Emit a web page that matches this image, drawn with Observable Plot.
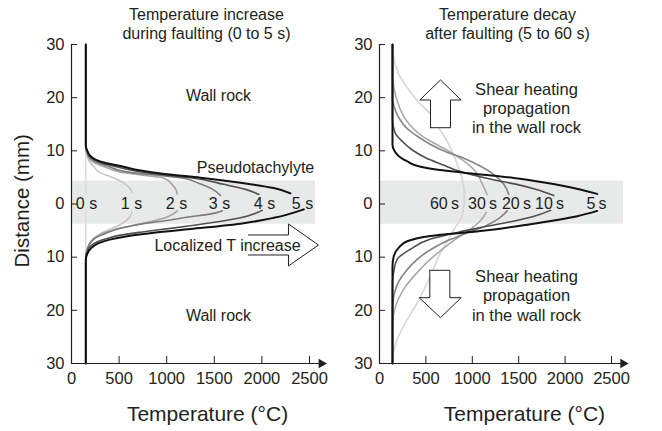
<!DOCTYPE html>
<html><head><meta charset="utf-8">
<script src="https://cdn.jsdelivr.net/npm/d3@7"></script>
<script src="https://cdn.jsdelivr.net/npm/@observablehq/plot@0.6"></script>
<style>
body{margin:0;background:#fff;}
#wrap{position:relative;width:662px;height:431px;overflow:hidden;font-family:"Liberation Sans",Arial,Helvetica,sans-serif;}
.panel{position:absolute;top:0;}
</style></head><body>
<div id="wrap"><div class="panel" id="left" style="left:0"></div><div class="panel" id="right" style="left:331px"></div></div>
<script>
// ---------- data (Temperature °C, Distance mm) ----------
const xTicks = [0, 500, 1000, 1500, 2000, 2500];
const yTicks = [-30, -20, -10, 0, 10, 20, 30];
const bandLow = -3.8, bandHigh = 4.3;   // pseudotachylyte layer

// left panel: heating 0-5 s  (upper branch / lower branch)
const leftTimes = ["0 s", "1 s", "2 s", "3 s", "4 s", "5 s"];
const leftLabelT = [158, 630, 1103, 1555, 2027, 2426];
const L0_up = [[150,30],[150,1.8]];
const L0_lo = [[150,-1.3],[150,-30]];
const L1_up = [[150,30],[150,10.4],[158,9.6],[166,9.0],[188,8.0],[232,7.1],[290,6.0],[400,5.2],[470,4.7],[560,3.8],[615,2.9],[635,2.2]];
const L1_lo = [[635,-1.6],[600,-2.7],[520,-3.8],[400,-4.8],[280,-5.8],[210,-6.9],[175,-8.2],[155,-9.8],[150,-10.5],[150,-30]];
const L2_up = [[150,30],[150,10.5],[160,9.7],[171,9.0],[220,8.0],[326,7.15],[520,6.0],[800,5.3],[966,4.9],[1060,3.6],[1100,2.6],[1110,1.9]];
const L2_lo = [[1110,-1.3],[1000,-2.5],[760,-3.6],[500,-4.6],[320,-5.6],[230,-6.6],[180,-7.8],[155,-9.4],[150,-10.3],[150,-30]];
const L3_up = [[150,30],[150,10.7],[165,9.8],[178,9.0],[250,8.0],[378,7.15],[600,6.0],[900,5.4],[1145,4.95],[1350,3.8],[1480,2.8],[1565,1.6]];
const L3_lo = [[1583,-1.3],[1450,-1.9],[1250,-2.4],[1000,-3.1],[725,-3.8],[500,-4.6],[375,-5.4],[250,-6.4],[200,-7.2],[165,-8.6],[150,-10.2],[150,-30]];
const L4_up = [[150,30],[150,10.8],[172,9.8],[190,9.0],[280,8.0],[441,7.15],[700,6.1],[1000,5.4],[1250,4.95],[1600,3.7],[1820,2.8],[1967,1.8]];
const L4_lo = [[2003,-1.2],[1775,-2.6],[1250,-4.1],[900,-4.9],[725,-5.3],[500,-5.9],[375,-6.5],[260,-7.2],[200,-7.9],[165,-9.0],[150,-10.4],[150,-30]];
const L5_up = [[150,30],[150,11],[165,10],[200,9.0],[260,8.3],[340,7.8],[515,7.15],[725,6.3],[1000,5.6],[1355,4.95],[1775,4.0],[2125,3.0],[2300,2.0]];
const L5_lo = [[2440,-1.0],[2125,-2.6],[1775,-3.7],[1250,-4.7],[865,-5.4],[600,-6.0],[400,-6.7],[280,-7.4],[200,-8.4],[165,-9.4],[150,-10.5],[150,-30]];

// right panel: decay 5-60 s
const rightTimes = ["60\u2009s", "30\u2009s", "20\u2009s", "10\u2009s", "5\u2009s"];
const rightLabelT = [700, 1110, 1476, 1832, 2338];
const R60 = [[140,30],[150,28],[175,26],[220,24],[298,21.9],[420,19.2],[550,16.9],[650,14],[729,11.8],[790,9.6],[837,7.5],[880,5.3],[908,3.1],[915,1.0],[905,-0.8],[891,-2.3],[801,-4.8],[730,-7],[657,-9.2],[550,-13.5],[406,-18.6],[262,-22.9],[180,-26],[150,-28],[140,-30]];
const R30_up = [[140,30],[140,24],[150,22.5],[190,19.4],[298,15.5],[420,13.3],[550,11.8],[720,10.2],[908,8.1],[1040,6.0],[1107,3.8],[1160,1.8]];
const R30_lo = [[1150,-1.6],[1080,-3.3],[960,-5],[820,-6.6],[680,-8.5],[540,-10.5],[400,-13],[280,-15.5],[200,-18],[160,-20],[145,-21.5],[140,-23],[140,-30]];
const R20_up = [[140,30],[140,20],[155,18.5],[200,16.5],[298,14.2],[420,12.6],[550,11.2],[720,9.8],[908,8.6],[1100,7.0],[1250,5.3],[1340,3.7],[1393,1.8]];
const R20_lo = [[1376,-1.3],[1280,-2.8],[1120,-4.3],[920,-5.6],[720,-7],[540,-8.7],[400,-10.5],[290,-12.5],[210,-14.5],[165,-16.5],[145,-18.5],[140,-20],[140,-30]];
const R10_up = [[140,30],[140,16],[150,14.5],[180,13],[245,11.8],[350,10.2],[496,8.7],[680,7.4],[855,6.2],[1214,4.6],[1500,3.6],[1700,2.7],[1878,1.6]];
const R10_lo = [[1843,-1.2],[1650,-2.4],[1400,-3.4],[1100,-4.4],[850,-5.3],[550,-6.6],[334,-8.5],[190,-10.4],[154,-12.6],[140,-14.8],[140,-30]];
const R5_up = [[140,30],[140,11.2],[160,10],[208,9.0],[300,8.0],[442,7.0],[650,6.4],[908,5.9],[1447,4.9],[1986,3.4],[2346,1.9]];
const R5_lo = [[2346,-1.3],[2130,-2.3],[1627,-3.8],[1088,-5.1],[550,-6.0],[298,-7.0],[208,-8.2],[154,-9.8],[140,-11.7],[140,-30]];

// texts
const leftTitle = "Temperature increase\nduring faulting (0 to 5 s)";
const rightTitle = "Temperature decay\nafter faulting (5 to 60 s)";
const xLabel = "Temperature (°C)";
const yLabel = "Distance (mm)";
const wallRock = "Wall rock";
const pseudo = "Pseudotachylyte";
const localized = "Localized T increase";
const shear = "Shear heating\npropagation\nin the wall rock";

// annotation arrow outlines (°C, mm)
const arrowRight = [[1859,-5.83],[2279,-5.83],[2279,-3.76],[2594,-7.71],[2279,-11.66],[2279,-9.59],[1859,-9.59]];
const arrowUp = [[550,14.35],[550,19.56],[434,19.56],[657,23.32],[880,19.56],[765,19.56],[765,14.35],[550,14.35]];
const arrowDown = [[542,-12.47],[542,-17.62],[428,-17.62],[657,-21.38],[880,-17.62],[758,-17.62],[758,-12.47],[542,-12.47]];

// ---------- drawing ----------
const ink = "#231f20";
const font = '"Liberation Sans", Arial, Helvetica, sans-serif';
const X = d => d[0], Y = d => d[1];

function curve(data, stroke, w) {
  return Plot.line(data, {x: X, y: Y, stroke, strokeWidth: w, curve: "monotone-y", strokeLinejoin: "round"});
}

function panel(o) {
  const innerW = 331 - o.ml - o.mr, innerH = 431 - 44 - 68;
  return Plot.plot({
    width: 331, height: 431,
    marginLeft: o.ml, marginRight: o.mr, marginTop: 44, marginBottom: 68,
    style: {fontFamily: font, fontSize: "16.5px", color: ink, background: "transparent", overflow: "visible"},
    x: {domain: [0, 2500], ticks: xTicks, tickSize: 0, tickPadding: 9, tickFormat: d => String(d), label: null},
    y: {domain: [-30, 30], ticks: yTicks, tickSize: 0, tickPadding: 7, tickFormat: d => String(Math.abs(d)), label: null},
    marks: [
      Plot.rect([0], {x1: 0, x2: o.bandX2, y1: bandLow, y2: bandHigh, fill: "#e8e9e9"}),
      ...o.lines,
      ...o.arrows.map(a => Plot.line(a.pts, {x: X, y: Y, stroke: ink, strokeWidth: 1, fill: "white", fillOpacity: a.fill ? 1 : 0})),
      // axes
      Plot.ruleX([0], {y1: -30, y2: 30, stroke: ink, strokeWidth: 1.2}),
      Plot.ruleY([-30], {x1: 0, x2: 2620, stroke: ink, strokeWidth: 1.2}),
      Plot.dot([0], {x: 2625, y: -30, symbol: "triangle", r: 3.6, rotate: 90, fill: ink, stroke: null}),
      Plot.tickY(yTicks, {y: d => d, stroke: ink, strokeWidth: 1, insetRight: innerW - 6}),
      Plot.tickX(xTicks.slice(1), {x: d => d, stroke: ink, strokeWidth: 1, insetTop: innerH - 7}),
      // texts
      Plot.text(o.times, {x: (d, i) => o.timeT[i], y: 0, text: d => d, fontSize: 16, fill: ink}),
      ...o.texts
    ]
  });
}

const gL = ["#dcdcdc", "#c6c6c6", "#a4a4a4", "#7d7d7d", "#505050", "#111111"];
const leftLines = [
  [L0_up, L0_lo], [L1_up, L1_lo], [L2_up, L2_lo], [L3_up, L3_lo], [L4_up, L4_lo], [L5_up, L5_lo]
].flatMap((p, i) => p.map(a => curve(a, gL[i], i === 5 ? 2 : 1.6)));

const gR = {r60: "#d6d6d6", r30: "#aaaaaa", r20: "#858585", r10: "#4e4e4e", r5: "#111111"};
const rightLines = [
  curve(R60, gR.r60, 1.6),
  curve(R30_up, gR.r30, 1.6), curve(R30_lo, gR.r30, 1.6),
  curve(R20_up, gR.r20, 1.6), curve(R20_lo, gR.r20, 1.6),
  curve(R10_up, gR.r10, 1.6), curve(R10_lo, gR.r10, 1.6),
  curve(R5_up, gR.r5, 2), curve(R5_lo, gR.r5, 2)
];

const left = panel({
  ml: 71, mr: 22, bandX2: 2563,
  lines: leftLines,
  arrows: [{pts: arrowRight, fill: false}],
  times: leftTimes, timeT: leftLabelT,
  texts: [
    Plot.text([leftTitle], {x: 1418, y: 30, dy: -21, text: d => d, lineAnchor: "middle", lineHeight: 1.15, fontSize: 16, fill: ink}),
    Plot.text([wallRock], {x: 1544, y: 20.3, text: d => d, fontSize: 16, fill: ink}),
    Plot.text([wallRock], {x: 1544, y: -21.1, text: d => d, fontSize: 16, fill: ink}),
    Plot.text([pseudo], {x: 1933, y: 6.77, text: d => d, fontSize: 16, fill: ink}),
    Plot.text([localized], {x: 1639, y: -7.9, text: d => d, fontSize: 16, fill: ink}),
    Plot.text([xLabel], {x: 1429, y: -30, dy: 51, text: d => d, fontSize: 21, fill: ink}),
    Plot.text([yLabel], {x: 0, y: 0.6, dx: -49, rotate: -90, text: d => d, fontSize: 20.5, fill: ink})
  ]
});

const right = panel({
  ml: 48, mr: 51, bandX2: 2630,
  lines: rightLines,
  arrows: [{pts: arrowUp, fill: true}, {pts: arrowDown, fill: true}],
  times: rightTimes, timeT: rightLabelT,
  texts: [
    Plot.text([rightTitle], {x: 1379, y: 30, dy: -21, text: d => d, lineAnchor: "middle", lineHeight: 1.15, fontSize: 16, fill: ink}),
    Plot.text([shear], {x: 1584, y: 18.1, text: d => d, lineAnchor: "middle", lineHeight: 1.18, fontSize: 16.5, fill: ink}),
    Plot.text([shear], {x: 1584, y: -17.1, text: d => d, lineAnchor: "middle", lineHeight: 1.18, fontSize: 16.5, fill: ink}),
    Plot.text([xLabel], {x: 1562, y: -30, dy: 51, text: d => d, fontSize: 21, fill: ink})
  ]
});

document.getElementById("left").appendChild(left);
document.getElementById("right").appendChild(right);
</script>
</body></html>
